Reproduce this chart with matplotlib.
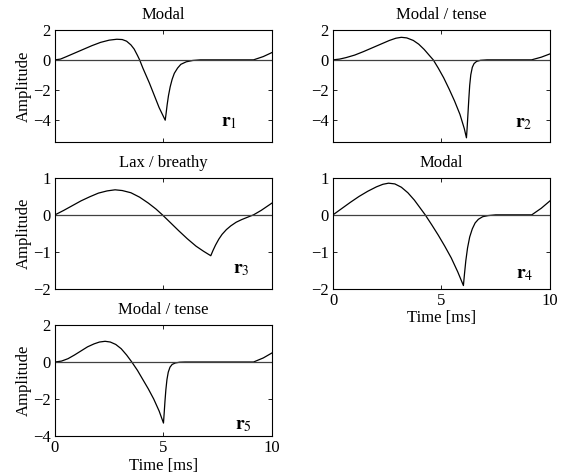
import matplotlib
matplotlib.use("Agg")
import matplotlib.pyplot as plt

plt.rcParams['font.family'] = ['Liberation Serif', 'DejaVu Serif']
plt.rcParams['mathtext.fontset'] = 'stix'
plt.rcParams['font.size'] = 12

# glottal flow derivative pulses (time in ms)
t1 = [0, 0.25, 0.5, 0.9, 1.3, 1.7, 2.1, 2.5, 2.85, 3.1, 3.3, 3.5, 3.65, 3.8, 3.9,
      4.05, 4.2, 4.35, 4.5, 4.65, 4.8, 4.95, 5.08, 5.12, 5.17, 5.23, 5.31, 5.4,
      5.5, 5.65, 5.8, 6.05, 6.35, 6.7, 9.15, 9.6, 10]
y1 = [0, 0.05, 0.2, 0.45, 0.7, 0.95, 1.17, 1.32, 1.38, 1.36, 1.25, 1.0, 0.72, 0.3, 0.0,
      -0.55, -1.05, -1.55, -2.1, -2.65, -3.2, -3.65, -4.04, -3.6, -3.0, -2.4, -1.8, -1.3,
      -0.9, -0.55, -0.3, -0.13, -0.04, 0, 0, 0.22, 0.49]

t2 = [0, 0.3, 0.6, 1.0, 1.4, 1.8, 2.2, 2.6, 2.9, 3.15, 3.4, 3.7, 3.95, 4.2, 4.45,
      4.62, 4.85, 5.1, 5.35, 5.6, 5.85, 6.05, 6.15, 6.18, 6.22, 6.26, 6.3, 6.35,
      6.42, 6.5, 6.62, 6.8, 7.1, 9.15, 9.6, 10]
y2 = [0, 0.05, 0.15, 0.32, 0.55, 0.8, 1.05, 1.3, 1.45, 1.51, 1.47, 1.3, 1.05, 0.7, 0.28,
      0, -0.55, -1.2, -1.95, -2.75, -3.65, -4.6, -5.22, -4.6, -3.6, -2.6, -1.7, -1.0,
      -0.5, -0.25, -0.1, -0.03, 0, 0, 0.18, 0.4]

t3 = [0, 0.4, 0.8, 1.2, 1.6, 2.0, 2.4, 2.77, 3.1, 3.5, 3.9, 4.3, 4.65, 4.95, 5.3,
      5.7, 6.1, 6.5, 6.85, 7.18, 7.28, 7.4, 7.55, 7.7, 7.9, 8.1, 8.35, 8.6, 8.85,
      9.15, 9.5, 10]
y3 = [0, 0.12, 0.25, 0.38, 0.49, 0.59, 0.65, 0.68, 0.66, 0.6, 0.48, 0.32, 0.16, 0, -0.2,
      -0.43, -0.65, -0.85, -0.99, -1.11, -0.97, -0.82, -0.66, -0.53, -0.4, -0.3, -0.2,
      -0.13, -0.07, 0.0, 0.12, 0.32]

t4 = [0, 0.4, 0.8, 1.2, 1.6, 2.0, 2.3, 2.56, 2.85, 3.15, 3.45, 3.75, 4.0, 4.25, 4.55,
      4.85, 5.15, 5.45, 5.75, 6.01, 6.06, 6.12, 6.2, 6.3, 6.42, 6.55, 6.7, 6.9, 7.15,
      7.5, 9.16, 9.6, 10]
y4 = [0, 0.17, 0.34, 0.5, 0.64, 0.76, 0.83, 0.86, 0.84, 0.75, 0.6, 0.4, 0.2, 0, -0.27,
      -0.55, -0.85, -1.17, -1.55, -1.92, -1.6, -1.25, -0.9, -0.6, -0.38, -0.22, -0.12,
      -0.05, -0.02, 0, 0, 0.18, 0.38]

t5 = [0, 0.3, 0.6, 0.9, 1.2, 1.5, 1.8, 2.05, 2.31, 2.55, 2.8, 3.05, 3.3, 3.54, 3.8,
      4.05, 4.3, 4.55, 4.8, 5.0, 5.03, 5.07, 5.11, 5.16, 5.22, 5.3, 5.4, 5.55, 5.75,
      6.0, 9.15, 9.6, 10]
y5 = [0, 0.05, 0.18, 0.38, 0.6, 0.82, 0.98, 1.08, 1.12, 1.08, 0.95, 0.72, 0.38, 0, -0.45,
      -0.95, -1.45, -2.0, -2.65, -3.3, -2.8, -2.1, -1.5, -0.95, -0.55, -0.28, -0.13,
      -0.05, -0.01, 0, 0, 0.22, 0.49]

times = [t1, t2, t3, t4, t5]
amps = [y1, y2, y3, y4, y5]
titles = ["Modal", "Modal / tense", "Lax / breathy", "Modal", "Modal / tense"]
ylims = [(-5.5, 2), (-5.5, 2), (-2, 1), (-2, 1), (-4, 2)]
yticks = [[-4, -2, 0, 2], [-4, -2, 0, 2], [-2, -1, 0, 1], [-2, -1, 0, 1], [-4, -2, 0, 2]]
xticks = [0, 5, 10]

# axes boxes in figure fractions
boxes = [
    [0.0963, 0.7017, 0.380, 0.2353],
    [0.5832, 0.7017, 0.380, 0.2353],
    [0.0963, 0.3939, 0.380, 0.2321],
    [0.5832, 0.3939, 0.380, 0.2321],
    [0.0963, 0.0840, 0.380, 0.2332],
]
label_pos = [(7.65, -4.47), (8.4, -4.5), (8.2, -1.58), (8.45, -1.72), (8.3, -3.66)]

fig = plt.figure(figsize=(5.71, 4.76), dpi=100)

for i in range(5):
    ax = fig.add_axes(boxes[i])
    ax.plot(times[i], amps[i], color='black', lw=0.9)
    ax.axhline(0, color='#404040', lw=0.9)
    ax.set_xlim(0, 10)
    ax.set_ylim(*ylims[i])
    ax.set_xticks(xticks)
    ax.set_yticks(yticks[i])
    ax.set_title(titles[i], fontsize=12, pad=8)
    ax.tick_params(direction='in', top=True, right=True, length=3, width=0.6, pad=3)
    for sp in ax.spines.values():
        sp.set_linewidth(0.8)
    if i in (3, 4):
        ax.set_xlabel("Time [ms]", labelpad=1)
    else:
        ax.set_xticklabels([])
    if i % 2 == 0:
        ax.set_ylabel("Amplitude", labelpad=1)
    lx, ly = label_pos[i]
    ax.text(lx, ly, r'$\mathbf{r}_%d$' % (i + 1), fontsize=14, ha='left', va='baseline')

fig.savefig("out.png", dpi=100)
